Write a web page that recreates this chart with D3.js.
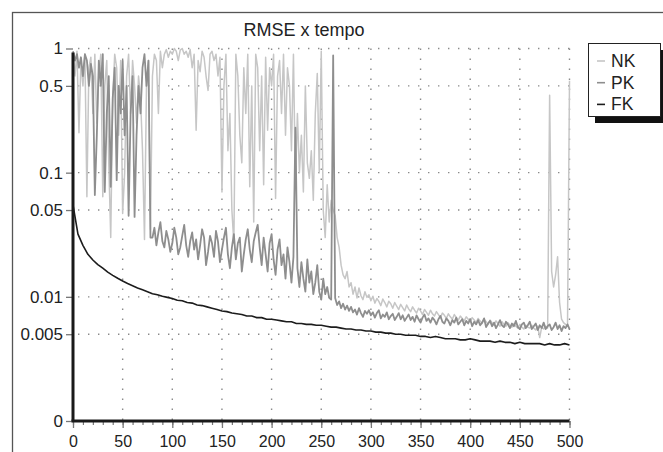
<!DOCTYPE html>
<html>
<head>
<meta charset="utf-8">
<script src="https://cdn.jsdelivr.net/npm/d3@7"></script>
<style>
  body { margin: 0; background: #fff; }
  svg { display: block; font-family: "Liberation Sans", Arial, sans-serif; }
</style>
</head>
<body>
<svg id="chart" width="663" height="452"></svg>
<script>
// iterations are sampled every 2 (NK, PK) and every 5 (FK)
var nkStep = 2, pkStep = 2, fkStep = 5;

var nk = [
  0.9, 0.6, 0.95, 0.21, 0.8, 0.5, 0.9, 0.064, 0.7, 0.85,
  0.3, 0.9, 0.25, 0.6, 0.9, 0.064, 0.5, 0.8, 0.12, 0.03,
  0.4, 0.9, 0.7, 0.2, 0.8, 0.047, 0.1, 0.6, 0.9, 0.3,
  0.8, 0.5, 0.25, 0.6, 0.4, 0.15, 0.029, 0.5, 0.8, 0.035,
  0.6, 0.9, 0.8, 0.3, 0.95, 0.7, 0.9, 0.98, 0.85, 0.95,
  0.9, 1.0, 0.95, 0.8, 0.97, 1.0, 0.9, 0.95, 0.85, 0.98,
  0.7, 0.9, 0.22, 0.8, 0.65, 0.95, 0.85, 0.6, 0.46, 0.9,
  0.95, 0.8, 0.9, 0.6, 0.85, 0.07, 0.5, 0.9, 0.15, 0.3,
  0.05, 0.027, 0.9, 0.6, 0.2, 0.12, 0.7, 0.3, 0.9, 0.077,
  0.5, 0.04, 0.9, 0.7, 0.15, 0.6, 0.08, 0.85, 0.22, 0.7,
  0.5, 0.9, 0.062, 0.6, 0.8, 0.3, 0.9, 0.2, 0.7, 0.5,
  0.15, 0.9, 0.08, 0.3, 0.1, 0.2, 0.07, 0.5, 0.12, 0.09,
  0.15, 0.06, 0.3, 0.63, 0.1, 0.95, 0.05, 0.03, 0.08, 0.04,
  0.06, 0.05, 0.045, 0.03, 0.025, 0.018, 0.015, 0.014, 0.016, 0.012,
  0.013, 0.0105, 0.012, 0.0098, 0.0118, 0.0102, 0.0095, 0.011, 0.0099, 0.0104,
  0.0093, 0.0101, 0.0089, 0.0097, 0.0092, 0.0085, 0.0096, 0.009, 0.0083, 0.0092,
  0.0088, 0.0081, 0.009, 0.0084, 0.0079, 0.0087, 0.0082, 0.0077, 0.0086, 0.008,
  0.0076, 0.0083, 0.0078, 0.0074, 0.0081, 0.0077, 0.0072, 0.0079, 0.0075, 0.0071,
  0.0078, 0.0073, 0.007, 0.0076, 0.0072, 0.0068, 0.0074, 0.0071, 0.0067, 0.0073,
  0.0069, 0.0066, 0.0072, 0.0068, 0.0065, 0.007, 0.0067, 0.0064, 0.0069, 0.0066,
  0.0063, 0.0068, 0.0065, 0.0062, 0.0067, 0.0064, 0.0061, 0.0066, 0.0063, 0.006,
  0.0065, 0.0062, 0.0059, 0.0064, 0.0061, 0.0058, 0.0063, 0.006, 0.0058, 0.0062,
  0.0059, 0.0057, 0.0061, 0.0058, 0.0056, 0.006, 0.0057, 0.0055, 0.0059, 0.0057,
  0.0056, 0.0059, 0.0056, 0.0054, 0.0058, 0.0047, 0.0057, 0.0055, 0.0058, 0.0056,
  0.42, 0.016, 0.012, 0.015, 0.021, 0.009, 0.0066, 0.0062, 0.006, 0.0058,
  0.55
];

var pk = [
  0.95, 0.8, 0.9, 0.7, 0.85, 0.6, 0.9, 0.8, 0.5, 0.75,
  0.6, 0.066, 0.2, 0.8, 0.5, 0.9, 0.07, 0.3, 0.6, 0.077,
  0.4, 0.7, 0.087, 0.5, 0.3, 0.8, 0.2, 0.5, 0.045, 0.3,
  0.6, 0.044, 0.2, 0.5, 0.3, 0.7, 0.9, 0.5, 0.8, 0.03,
  0.03, 0.036, 0.026, 0.033, 0.04, 0.028, 0.025, 0.034, 0.029, 0.023,
  0.027, 0.036, 0.03, 0.022, 0.025, 0.031, 0.038, 0.026, 0.021, 0.028,
  0.033, 0.024, 0.029, 0.02, 0.026, 0.035, 0.03, 0.018, 0.023, 0.031,
  0.027, 0.021, 0.034, 0.028, 0.019, 0.024, 0.03, 0.036, 0.022, 0.017,
  0.025, 0.032, 0.02, 0.027, 0.03, 0.016, 0.022, 0.029, 0.035, 0.024,
  0.019, 0.028, 0.033, 0.038, 0.025, 0.018, 0.03, 0.022, 0.016, 0.027,
  0.032, 0.02, 0.015, 0.024, 0.029, 0.018, 0.022, 0.014, 0.025, 0.019,
  0.013, 0.021, 0.23, 0.017, 0.012, 0.019, 0.014, 0.011, 0.02, 0.013,
  0.016, 0.0105, 0.013, 0.018, 0.011, 0.0095, 0.014, 0.0105, 0.012, 0.0098,
  0.0095, 0.88, 0.0098, 0.0086, 0.0092, 0.0081, 0.0088, 0.0079, 0.0085, 0.0077,
  0.0083, 0.0075, 0.0079, 0.0072, 0.0081, 0.0074, 0.0069, 0.0077, 0.0073, 0.0078,
  0.0071, 0.0075, 0.0068, 0.0074, 0.0078, 0.0067, 0.0072, 0.0069, 0.0075, 0.0066,
  0.007, 0.0073, 0.0065, 0.0069, 0.0074, 0.0066, 0.0071, 0.0064, 0.0068, 0.0072,
  0.0065, 0.0069, 0.0063, 0.0071, 0.0066, 0.0062, 0.0068, 0.0072, 0.0064, 0.0067,
  0.0062, 0.0068, 0.0065, 0.006, 0.0066, 0.007, 0.0063, 0.0061, 0.0067, 0.0064,
  0.0059, 0.0065, 0.0062, 0.0068, 0.006, 0.0063, 0.0066, 0.0059, 0.0064, 0.0061,
  0.0066, 0.0058, 0.0063, 0.006, 0.0065, 0.0059, 0.0062, 0.0067, 0.0057, 0.0061,
  0.0064, 0.0058, 0.0062, 0.0056, 0.006, 0.0065, 0.0059, 0.0057, 0.0063, 0.006,
  0.0056, 0.0061, 0.0058, 0.0064, 0.0057, 0.0055, 0.006, 0.0062, 0.0056, 0.0059,
  0.0063, 0.0055, 0.0058, 0.0061, 0.0054, 0.0059, 0.0056, 0.0062, 0.0055, 0.0058,
  0.006, 0.0054, 0.0057, 0.0062, 0.0055, 0.0059, 0.0053, 0.0058, 0.0056, 0.006,
  0.0055
];

var fk = [
  0.055, 0.032, 0.026, 0.022, 0.0198, 0.0182, 0.017, 0.0158, 0.0149, 0.0141,
  0.0134, 0.0128, 0.0123, 0.0118, 0.0114, 0.011, 0.0106, 0.0104, 0.0101, 0.0099,
  0.0097, 0.0094, 0.0093, 0.009, 0.0089, 0.0086, 0.0085, 0.0083, 0.0081, 0.0079,
  0.0077, 0.0076, 0.0074, 0.0073, 0.0072, 0.007, 0.007, 0.0068, 0.0068, 0.0066,
  0.0066, 0.0065, 0.0064, 0.0063, 0.0063, 0.0061, 0.0061, 0.006, 0.006, 0.0059,
  0.0059, 0.0058, 0.0057, 0.0057, 0.0056, 0.0055, 0.0055, 0.0054, 0.0054, 0.0053,
  0.0053, 0.0052, 0.0052, 0.0051, 0.0051, 0.005, 0.005, 0.0049, 0.0049, 0.0049,
  0.0048, 0.0048, 0.0047, 0.0048, 0.0047, 0.0046, 0.0046, 0.0046, 0.0045, 0.0045,
  0.0046, 0.0045, 0.0044, 0.0044, 0.0044, 0.0043, 0.0044, 0.0043, 0.0043, 0.0042,
  0.0043, 0.0042, 0.0042, 0.0042, 0.0042, 0.0041, 0.0042, 0.0041, 0.0041, 0.0042,
  0.0041
];

var seriesNames = ["NK", "PK", "FK"];
var seriesColors = ["#c6c6c6", "#8e8e8e", "#1c1c1c"];

var yTickValues = [0.001, 0.005, 0.01, 0.05, 0.1, 0.5, 1];
var yTickLabels = ["0", "0.005", "0.01", "0.05", "0.1", "0.5", "1"];
var xTickValues = [0, 50, 100, 150, 200, 250, 300, 350, 400, 450, 500];

var svg = d3.select("#chart");

var x = d3.scaleLinear().domain([0, 500]).range([73, 569.5]);
var y = d3.scaleLog().domain([0.001, 1]).range([421, 48.5]).clamp(true);

// outer frame
svg.append("rect")
  .attr("x", 12.5).attr("y", 12.5)
  .attr("width", 700).attr("height", 500)
  .attr("fill", "none")
  .attr("stroke", "#555")
  .attr("stroke-width", 1.3);

svg.append("text")
  .attr("x", 304).attr("y", 36)
  .attr("text-anchor", "middle")
  .attr("font-size", 18)
  .attr("fill", "#222")
  .text("RMSE x tempo");

// dotted grid
var grid = svg.append("g").attr("stroke", "#8a8a8a").attr("stroke-width", 1.4)
  .attr("stroke-dasharray", "1.4,8.6");
grid.selectAll("line.h")
  .data(yTickValues.slice(1))
  .enter().append("line")
  .attr("x1", x(0) + 5).attr("x2", x(500))
  .attr("y1", d => y(d)).attr("y2", d => y(d));
grid.selectAll("line.v")
  .data(xTickValues.slice(1))
  .enter().append("line")
  .attr("x1", d => x(d)).attr("x2", d => x(d))
  .attr("y1", y(1)).attr("y2", y(0.001));

// axes
var yAxis = d3.axisLeft(y)
  .tickValues(yTickValues)
  .tickFormat((d, i) => yTickLabels[i])
  .tickSize(7)
  .tickPadding(3);
var gy = svg.append("g").attr("transform", "translate(" + x(0) + ",0)").call(yAxis);
gy.select(".domain").remove();
gy.selectAll(".tick line").attr("stroke", "#777").attr("stroke-width", 1.3);
gy.selectAll(".tick text").attr("font-size", 17).attr("fill", "#222")
  .attr("font-family", "Liberation Sans, Arial, sans-serif");

var xAxis = d3.axisBottom(x)
  .tickValues(xTickValues)
  .tickSize(7)
  .tickPadding(8);
var gx = svg.append("g").attr("transform", "translate(0," + y(0.001) + ")").call(xAxis);
gx.select(".domain").remove();
gx.selectAll(".tick line").attr("stroke", "#777").attr("stroke-width", 1.3);
gx.selectAll(".tick text").attr("font-size", 16).attr("fill", "#222")
  .attr("font-family", "Liberation Sans, Arial, sans-serif");

var xMinor = d3.axisBottom(x).ticks(50).tickSize(4).tickFormat("");
var gxm = svg.append("g").attr("transform", "translate(0," + y(0.001) + ")").call(xMinor);
gxm.select(".domain").remove();
gxm.selectAll(".tick line").attr("stroke", "#777").attr("stroke-width", 1.2);

// series
var line = d3.line().x(d => x(d[0])).y(d => y(d[1]));
var series = [
  nk.map((v, i) => [i * nkStep, v]),
  pk.map((v, i) => [i * pkStep, v]),
  fk.map((v, i) => [i * fkStep, v])
];
var widths = [1.5, 1.8, 1.6];
series.forEach(function(s, k) {
  svg.append("path")
    .datum(s)
    .attr("d", line)
    .attr("fill", "none")
    .attr("stroke", seriesColors[k])
    .attr("stroke-width", widths[k])
    .attr("stroke-linejoin", "round");
});

// thick axis lines on top
svg.append("line")
  .attr("x1", x(0)).attr("x2", x(0))
  .attr("y1", y(1) + 4).attr("y2", y(0.001))
  .attr("stroke", "#1a1a1a").attr("stroke-width", 3);
svg.append("line")
  .attr("x1", x(0) - 1.5).attr("x2", x(500))
  .attr("y1", y(0.001)).attr("y2", y(0.001))
  .attr("stroke", "#1a1a1a").attr("stroke-width", 3);

// legend
var legend = svg.append("g");
legend.append("rect")
  .attr("x", 595).attr("y", 50).attr("width", 72).attr("height", 73)
  .attr("fill", "#111");
legend.append("rect")
  .attr("x", 588.5).attr("y", 43.5).attr("width", 72).attr("height", 73)
  .attr("fill", "#fff").attr("stroke", "#222").attr("stroke-width", 1);
seriesNames.forEach(function(name, i) {
  var ly = 61 + i * 21.7;
  legend.append("line")
    .attr("x1", 597).attr("x2", 605)
    .attr("y1", ly).attr("y2", ly)
    .attr("stroke", seriesColors[i]).attr("stroke-width", 1.6);
  legend.append("text")
    .attr("x", 611).attr("y", ly + 6)
    .attr("font-size", 17.5).attr("fill", "#222")
    .text(name);
});
</script>
</body>
</html>
